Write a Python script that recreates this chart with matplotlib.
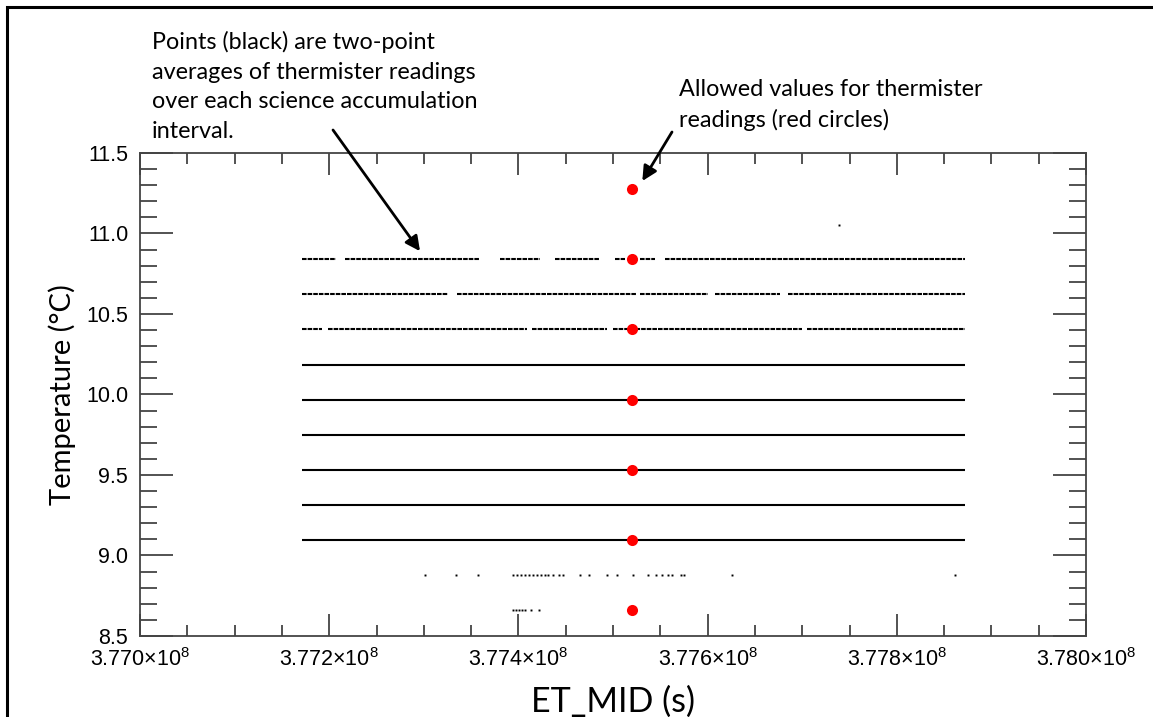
import matplotlib
matplotlib.use("Agg")
import matplotlib.pyplot as plt
from matplotlib.patches import Rectangle
from matplotlib.ticker import MultipleLocator, FuncFormatter

# Allowed thermister values (red circles), all at one ET_MID
allowed_x = 3.77520e8
allowed_y = [11.275, 10.840, 10.404, 9.968, 9.533, 9.097, 8.662]

# Two-point averages: dense rows, stored as (start, end) runs in ET_MID
line_levels = [10.840, 10.622, 10.404, 10.186, 9.968, 9.751, 9.533, 9.315, 9.097]
line_segments = [
    [(3.77171e8, 3.77207e8), (3.77217e8, 3.77359e8), (3.77381e8, 3.77423e8),
     (3.77439e8, 3.77486e8), (3.77502e8, 3.77513e8), (3.77529e8, 3.77544e8),
     (3.77555e8, 3.77872e8)],
    [(3.77171e8, 3.77326e8), (3.77335e8, 3.77525e8), (3.77529e8, 3.77600e8),
     (3.77608e8, 3.77677e8), (3.77685e8, 3.77872e8)],
    [(3.77171e8, 3.77192e8), (3.77199e8, 3.77409e8), (3.77414e8, 3.77494e8),
     (3.77500e8, 3.77700e8), (3.77705e8, 3.77872e8)],
    [(3.77171e8, 3.77872e8)],
    [(3.77171e8, 3.77872e8)],
    [(3.77171e8, 3.77872e8)],
    [(3.77171e8, 3.77872e8)],
    [(3.77171e8, 3.77872e8)],
    [(3.77171e8, 3.77872e8)],
]

# Sparse averages on the two lowest levels, plus one stray point
sparse_88_x = [3.773013e8, 3.773340e8, 3.773573e8, 3.773943e8, 3.773985e8,
               3.774028e8, 3.774070e8, 3.774112e8, 3.774154e8, 3.774197e8,
               3.774239e8, 3.774281e8, 3.774313e8, 3.774366e8, 3.774429e8,
               3.774472e8, 3.774651e8, 3.774746e8, 3.774937e8, 3.775042e8,
               3.775211e8, 3.775370e8, 3.775455e8, 3.775518e8, 3.775581e8,
               3.775624e8, 3.775719e8, 3.775751e8, 3.776258e8, 3.778615e8]
sparse_88_y = 8.880
sparse_866_x = [3.773943e8, 3.773975e8, 3.774006e8, 3.774038e8, 3.774070e8,
                3.774133e8, 3.774218e8]
sparse_866_y = 8.662
stray_x = [3.77739e8]
stray_y = [11.052]

x_lim = (3.770e8, 3.780e8)
y_lim = (8.5, 11.5)

note_points = ("Points (black) are two-point\naverages of thermister readings\n"
               "over each science accumulation\ninterval.")
note_allowed = "Allowed values for thermister\nreadings (red circles)"

plt.rcParams['font.family'] = 'Liberation Sans'
plt.rcParams['mathtext.default'] = 'regular'

W, H = 1153, 717
fig = plt.figure(figsize=(W / 100, H / 100), dpi=100)
ax = fig.add_axes([140 / W, 1 - 636 / H, (1086 - 140) / W, (636 - 153) / H])

# dense rows (upper three are patchier, drawn with a fine dash)
for i, (lvl, segs) in enumerate(zip(line_levels, line_segments)):
    ls = (0, (2.2, 0.5)) if i < 3 else '-'
    for x0, x1 in segs:
        ax.plot([x0, x1], [lvl, lvl], color='black', lw=1.5, ls=ls,
                solid_capstyle='butt', dash_capstyle='butt')

ax.plot(sparse_88_x, [sparse_88_y] * len(sparse_88_x), 's', color='black',
        ms=1.4, mew=0)
ax.plot(sparse_866_x, [sparse_866_y] * len(sparse_866_x), 's', color='black',
        ms=1.4, mew=0)
ax.plot(stray_x, stray_y, 's', color='black', ms=1.4, mew=0)

ax.plot([allowed_x] * len(allowed_y), allowed_y, 'o', color='#ff0000',
        ms=8, mew=0, zorder=5)

ax.set_xlim(*x_lim)
ax.set_ylim(*y_lim)

ax.xaxis.set_major_locator(MultipleLocator(2e5))
ax.xaxis.set_minor_locator(MultipleLocator(5e4))
ax.yaxis.set_major_locator(MultipleLocator(0.5))
ax.yaxis.set_minor_locator(MultipleLocator(0.1))


def fmt_x(v, pos):
    return r'%.3f$\times$10$^{8}$' % (v / 1e8)


ax.xaxis.set_major_formatter(FuncFormatter(fmt_x))
ax.yaxis.set_major_formatter(FuncFormatter(lambda v, p: '%.1f' % v))

spine_c = '#444444'
for s in ax.spines.values():
    s.set_color(spine_c)
    s.set_linewidth(1.3)

ax.tick_params(axis='both', which='both', direction='in', top=True,
               right=True, color=spine_c, width=1.3, labelsize=15.5)
ax.tick_params(axis='x', which='major', length=16, pad=8.5)
ax.tick_params(axis='x', which='minor', length=8)
ax.tick_params(axis='y', which='major', length=24, pad=8.5)
ax.tick_params(axis='y', which='minor', length=12)

ax.set_ylabel("Temperature (°C)", fontsize=21, family='Lato', labelpad=7)
ax.set_xlabel("ET_MID (s)", fontsize=24.5, family='Lato', labelpad=11)

# annotations
fig.text(152 / W, 1 - 31 / H, note_points, fontsize=16.8, family='Lato',
         va='top', ha='left', linespacing=1.5)
fig.text(679 / W, 1 - 79 / H, note_allowed, fontsize=16.8, family='Lato',
         va='top', ha='left', linespacing=1.5)

ax.annotate("", xy=(3.77296e8, 10.89), xytext=(333 / W, 1 - 130 / H),
            textcoords='figure fraction',
            arrowprops=dict(arrowstyle='-|>', lw=2, color='black',
                            mutation_scale=22, shrinkA=0, shrinkB=0))
ax.annotate("", xy=(3.77531e8, 11.326), xytext=(672 / W, 1 - 132 / H),
            textcoords='figure fraction',
            arrowprops=dict(arrowstyle='-|>', lw=2, color='black',
                            mutation_scale=22, shrinkA=0, shrinkB=0))

# outer frame (cut by right/bottom edge)
fig.patches.append(Rectangle((7 / W, -0.1), 1.2, 1.1 - 7 / H,
                             transform=fig.transFigure, fill=False,
                             lw=2.2, edgecolor='black', clip_on=False))

fig.savefig("out.png", dpi=100)
